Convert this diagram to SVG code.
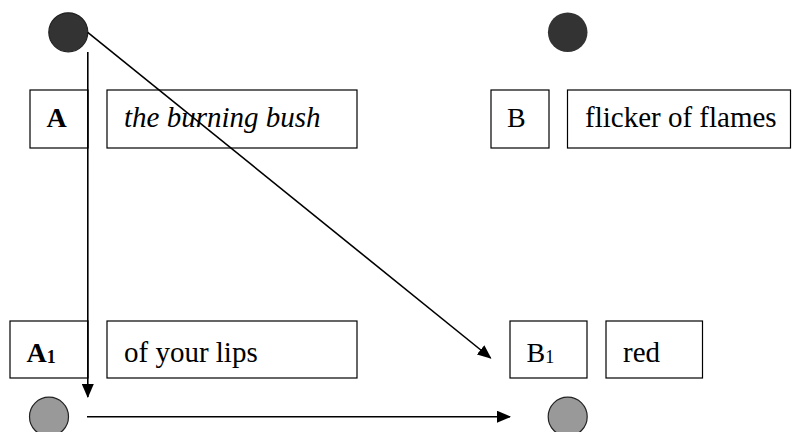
<svg xmlns="http://www.w3.org/2000/svg" width="792" height="432" viewBox="0 0 792 432" font-family="'Liberation Serif', 'Times New Roman', serif">
  <style>
    .box { fill: #ffffff; stroke: #000000; stroke-width: 1.2; }
    text { font-family: 'Liberation Serif', 'Times New Roman', serif; fill: #000000; }
    .txt { font-size: 29px; }
    .lbl { font-size: 28px; }
    .bold { font-weight: bold; }
    .ital { font-style: italic; }
    .dark { fill: #333333; stroke: #222222; stroke-width: 1.2; }
    .gray { fill: #999999; stroke: #222222; stroke-width: 1.2; }
    .conn { stroke: #000000; stroke-width: 1.6; fill: none; }
  </style>
  <defs>
    <marker id="arrow" markerUnits="userSpaceOnUse" markerWidth="14" markerHeight="12" refX="13" refY="6" orient="auto">
      <path d="M0,0 L14,6 L0,12 Z" fill="#000000"/>
    </marker>
  </defs>

  <rect width="792" height="432" fill="#ffffff"/>

  <!-- boxes and points -->
  <g id="node-a">
    <rect class="box" x="30" y="90" width="58" height="58"/>
    <text class="lbl bold" x="46.5" y="127">A</text>
  </g>
  <g id="node-a-text">
    <rect class="box" x="107" y="90" width="250" height="58"/>
    <text class="txt ital" x="124" y="127">the burning bush</text>
  </g>
  <g id="node-b">
    <rect class="box" x="491" y="90" width="58" height="58"/>
    <text class="lbl" x="507" y="127">B</text>
  </g>
  <g id="node-b-text">
    <rect class="box" x="567.5" y="90" width="223" height="58"/>
    <text class="txt" x="585" y="127">flicker of flames</text>
  </g>
  <g id="node-a1">
    <rect class="box" x="10" y="321" width="78" height="57"/>
    <text class="lbl bold" x="26.5" y="362">A<tspan font-size="18" dy="1">1</tspan></text>
  </g>
  <g id="node-a1-text">
    <rect class="box" x="107" y="321" width="250" height="57"/>
    <text class="txt" x="124" y="362">of your lips</text>
  </g>
  <g id="node-b1">
    <rect class="box" x="510" y="321" width="77" height="57"/>
    <text class="lbl" x="526.5" y="362">B<tspan font-size="18" dy="1">1</tspan></text>
  </g>
  <g id="node-b1-text">
    <rect class="box" x="606" y="321" width="96.5" height="57"/>
    <text class="txt" x="623" y="362">red</text>
  </g>

  <g id="point-top-left">
    <circle class="dark" cx="68.3" cy="32.3" r="19.5"/>
  </g>
  <g id="point-top-right">
    <circle cx="567.7" cy="32.3" r="19.8" fill="#333333"/>
  </g>
  <g id="point-bottom-left">
    <circle class="gray" cx="49" cy="416.7" r="19.5"/>
  </g>
  <g id="point-bottom-right">
    <circle class="gray" cx="567.7" cy="416.7" r="19.5"/>
  </g>

  <!-- connectors -->
  <g id="connectors">
    <line class="conn" x1="87.8" y1="52" x2="87.8" y2="397" marker-end="url(#arrow)"/>
    <line class="conn" x1="87.7" y1="32.3" x2="490.7" y2="358" marker-end="url(#arrow)"/>
    <line class="conn" x1="87" y1="416.7" x2="510" y2="416.7" marker-end="url(#arrow)"/>
  </g>
</svg>
